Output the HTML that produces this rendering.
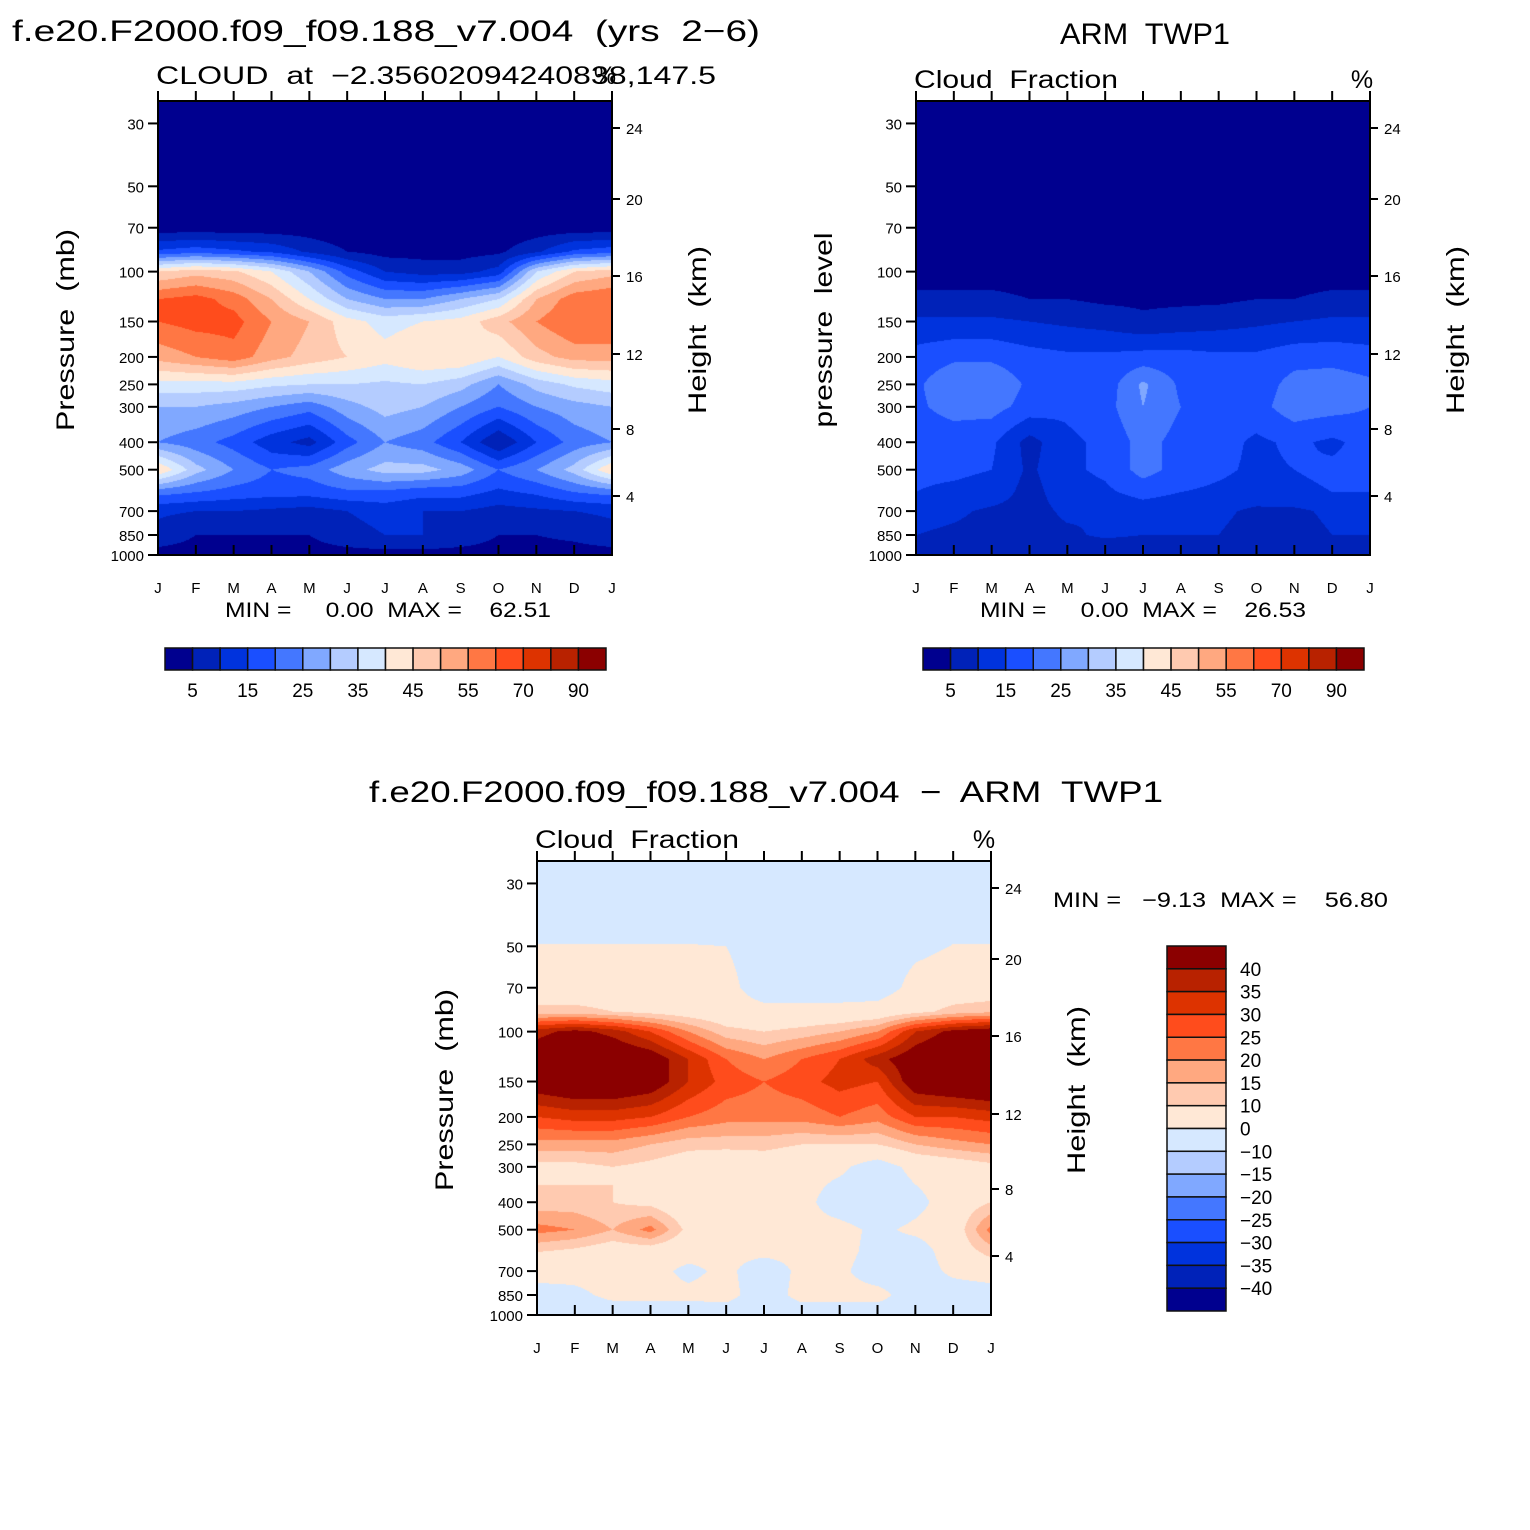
<!DOCTYPE html>
<html><head><meta charset="utf-8">
<style>
body{margin:0;background:#fff;}
#wrap{position:relative;width:1530px;height:1530px;overflow:hidden;font-family:"Liberation Sans",sans-serif;}
canvas{position:absolute;}
svg{position:absolute;left:0;top:0;}
text{font-family:"Liberation Sans",sans-serif;fill:#000;white-space:pre;}
</style></head>
<body>
<div id="wrap">
<canvas id="c1" width="454" height="454" style="left:158px;top:101px"></canvas>
<canvas id="c2" width="454" height="454" style="left:916px;top:101px"></canvas>
<canvas id="c3" width="454" height="454" style="left:537px;top:861px"></canvas>
<svg id="ov" width="1530" height="1530"></svg>
</div>
<script>
// ---- data ----
const months = ["J","F","M","A","M","J","J","A","S","O","N","D","J"];
const pLevels = [25,30,50,70,85,100,125,150,200,250,300,400,500,600,700,850,1000];
const pTicks = [30,50,70,100,150,200,250,300,400,500,700,850,1000];
const hTicks = [24,20,16,12,8,4];
const hTickY = [27,98,175,253,328,395];
const colors = ["#00008f","#0022b8","#0033dd","#1a4fff","#4477ff","#80a8ff","#b4ccff","#d6e8ff","#ffe8d6","#ffcab0","#ffa880","#ff7744","#ff4c1c","#dd3300","#b82200","#8b0000"];
const levelsAbs = [5,10,15,20,25,30,35,40,45,50,55,60,70,80,90];
const levelsDiff = [-40,-35,-30,-25,-20,-15,-10,0,10,15,20,25,30,35,40];
const absLabels = ["5","15","25","35","45","55","70","90"];
const diffLabels = ["40","35","30","25","20","15","10","0","−10","−15","−20","−25","−30","−35","−40"];

const modelCloud = [
 [1,1,1,1,1,1,1,1,1,1,1,1,1],
 [1,1,1,1,1,1,1,1,1,1,1,1,1],
 [1,1,1,1,1,1,1,1,1,1,1,1,1],
 [2,2,2,2,2,1,1,1,1,1,2,2,2],
 [16,18,16,14,9,5,3,3,3,4,9,16,18],
 [45,48,46,40,30,18,10,8,8,12,35,45,48],
 [60,62,58,50,40,30,25,25,30,35,50,58,60],
 [60,62,62,55,50,42,38,40,42,48,55,60,60],
 [52,55,58,52,48,45,42,45,45,40,48,52,52],
 [38,38,38,36,35,35,34,35,32,25,32,36,38],
 [30,30,28,25,22,28,32,30,25,20,25,28,30],
 [25,22,18,12,8,18,25,22,15,5,15,22,25],
 [45,32,25,20,22,28,32,32,28,20,25,32,45],
 [22,20,18,17,17,19,19,17,17,14,16,20,22],
 [11,10,10,9,8,10,12,10,10,8,9,10,11],
 [8,5,5,5,5,8,10,10,8,5,5,6,8],
 [3,3,3,3,3,3,3,3,3,3,3,3,3]];

const obsCloud = [
 [1,1,1,1,1,1,1,1,1,1,1,1,1],
 [1,1,1,1,1,1,1,1,1,1,1,1,1],
 [1,1,1,1,1,1,1,1,1,1,1,1,1],
 [1,1,1,1,1,1,1,1,1,1,1,1,1],
 [2,2,2,2,2,2,2,2,2,2,2,2,2],
 [3,3,3,3,3,3,2,2,2,2,3,3,3],
 [6,6,6,5,5,4,4,4,4,5,5,6,6],
 [11,11,11,10,9,8,6,7,8,9,10,11,11],
 [17,19,19,17,16,16,17,17,16,16,18,18,17],
 [19,24,24,19,17,17,26,19,17,17,22,23,21],
 [19,22,22,18,16,18,25,20,18,18,23,22,20],
 [17,17,16,8,14,16,22,18,17,14,16,14,17],
 [16,16,15,9,14,16,22,18,16,14,15,16,16],
 [15,14,13,8,13,14,17,15,14,13,14,15,15],
 [12,11,9,8,11,10,12,11,11,9,9,11,12],
 [10,9,8,8,9,11,10,10,10,8,8,10,10],
 [5,5,5,5,5,5,5,5,5,5,5,5,5]];

const diffCloud = [
 [-5,-5,-5,-5,-5,-5,-5,-5,-5,-5,-5,-5,-5],
 [-5,-5,-5,-5,-5,-5,-5,-5,-5,-5,-5,-5,-5],
 [0.2,0.2,0.2,0.2,0.2,0,-5,-5,-5,-5,-2,0.2,0.2],
 [5,5,5,5,5,3,-5,-5,-5,-5,3,5,5],
 [12,12,10,8,6,4,3,3,3,4,8,12,14],
 [38,42,38,30,20,12,10,12,15,20,35,42,45],
 [45,50,48,45,35,25,20,25,30,38,45,50,50],
 [45,48,48,45,35,28,25,28,32,30,45,48,50],
 [30,32,32,30,25,22,22,22,25,22,30,30,32],
 [18,18,18,15,12,12,12,10,10,10,15,18,20],
 [8,8,10,8,5,3,5,3,2,-5,3,5,8],
 [12,12,10,8,3,2,2,3,-5,-8,-3,5,10],
 [22,20,15,22,8,3,3,3,3,-2,2,5,22],
 [10,8,5,5,3,2,2,2,3,-3,-5,5,12],
 [5,3,3,3,-2,2,-5,2,2,-5,-5,2,5],
 [-5,-2,2,2,2,3,-5,3,3,3,-5,-5,-5],
 [-5,-5,-5,-5,-5,-5,-5,-5,-5,-5,-5,-5,-5]];

// ---- axis functions ----
const PW=454, PH=454, PTOP=25, PBOT=1000;
const yOfP = p => PH*Math.log(p/PTOP)/Math.log(PBOT/PTOP);
const xOfM = m => m*PW/12;
function hex(c){return [parseInt(c.slice(1,3),16),parseInt(c.slice(3,5),16),parseInt(c.slice(5,7),16)];}
const rgb = colors.map(hex);
function valueAt(grid, mFrac, lnp){
  const lp = pLevels.map(Math.log);
  let i=0; while(i<lp.length-2 && lnp>lp[i+1]) i++;
  let t=(lnp-lp[i])/(lp[i+1]-lp[i]); t=Math.max(0,Math.min(1,t));
  let j=Math.min(11,Math.floor(mFrac)); let s=mFrac-j;
  const a=grid[i][j]*(1-s)+grid[i][j+1]*s, b=grid[i+1][j]*(1-s)+grid[i+1][j+1]*s;
  return a*(1-t)+b*t;
}
function drawField(id, grid, levels){
  const cv=document.getElementById(id), ctx=cv.getContext('2d');
  const img=ctx.createImageData(PW,PH);
  const lnTop=Math.log(PTOP), lnBot=Math.log(PBOT);
  for(let y=0;y<PH;y++){
    const lnp=lnTop+(y+0.5)/PH*(lnBot-lnTop);
    for(let x=0;x<PW;x++){
      const v=valueAt(grid,(x+0.5)/PW*12,lnp);
      let k=0; while(k<levels.length && v>=levels[k]) k++;
      const c=rgb[k], o=(y*PW+x)*4;
      img.data[o]=c[0];img.data[o+1]=c[1];img.data[o+2]=c[2];img.data[o+3]=255;
    }
  }
  ctx.putImageData(img,0,0);
}
drawField('c1',modelCloud,levelsAbs);
drawField('c2',obsCloud,levelsAbs);
drawField('c3',diffCloud,levelsDiff);

// ---- overlay ----
const NS="http://www.w3.org/2000/svg", ov=document.getElementById('ov');
function el(tag,attrs,t){const e=document.createElementNS(NS,tag);for(const k in attrs)e.setAttribute(k,attrs[k]);if(t!==undefined)e.textContent=t;ov.appendChild(e);return e;}
function txt(x,y,s,size,anchor,name,rot,len){
  const e=el('text',{x:x,y:y,'font-size':size,'text-anchor':anchor||'start'},s);
  if(len){e.setAttribute('textLength',len);e.setAttribute('lengthAdjust','spacingAndGlyphs');}
  if(rot) e.setAttribute('transform','rotate(-90 '+x+' '+y+')');
  
  
  return e;
}
function panel(L,T,ylab,ylen,pfx){
  const r=el('rect',{x:L,y:T,width:PW,height:PH,fill:'none',stroke:'#000','stroke-width':2});
  
  
  pTicks.forEach(p=>{const y=T+yOfP(p);
    el('line',{x1:L-10,y1:y,x2:L,y2:y,stroke:'#000','stroke-width':2});
    txt(L-14,y+6,String(p),15,'end',pfx+'-y-tick-label');});
  hTicks.forEach((h,i)=>{const y=T+hTickY[i];
    el('line',{x1:L+PW,y1:y,x2:L+PW+8,y2:y,stroke:'#000','stroke-width':2});
    txt(L+PW+14,y+6,String(h),15,'start',pfx+'-height-tick-label');});
  months.forEach((m,i)=>{const x=L+xOfM(i);
    el('line',{x1:x,y1:T+PH,x2:x,y2:T+PH-10,stroke:'#000','stroke-width':2});
    el('line',{x1:x,y1:T,x2:x,y2:T-10,stroke:'#000','stroke-width':2});
    txt(x,T+PH+38,m,15,'middle',pfx+'-x-tick-label');});
  txt(L-84,T+229,ylab,25,'middle',pfx+'-y-axis-title',true,ylen);
  txt(L+PW+94,T+229,'Height  (km)',25,'middle',pfx+'-right-axis-title',true,168);
}
panel(158,101,'Pressure  (mb)',202,'model');
panel(916,101,'pressure  level',195,'obs');
panel(537,861,'Pressure  (mb)',202,'diff');

txt(12,41,'f.e20.F2000.f09_f09.188_v7.004  (yrs  2−6)',30,'start','model-title',false,748);
txt(156,84,'CLOUD  at  −2.35602094240838,147.5',25,'start','model-subtitle',false,560);
txt(605,84,'%',25,'middle','model-units');
txt(1145,44,'ARM  TWP1',30,'middle','obs-title',false,170);
txt(914,88,'Cloud  Fraction',25,'start','obs-subtitle',false,204);
txt(1362,88,'%',25,'middle','obs-units');
txt(766,802,'f.e20.F2000.f09_f09.188_v7.004  −  ARM  TWP1',30,'middle','diff-title',false,794);
txt(535,848,'Cloud  Fraction',25,'start','diff-subtitle',false,204);
txt(984,848,'%',25,'middle','diff-units');
txt(225,617,'MIN =     0.00  MAX =    62.51',21,'start','model-min-max',false,326);
txt(980,617,'MIN =     0.00  MAX =    26.53',21,'start','obs-min-max',false,326);
txt(1053,907,'MIN =   −9.13  MAX =    56.80',21,'start','diff-min-max',false,335);

function hbar(L,pfx){
  const w=441/16;
  colors.forEach((c,i)=>{const r=el('rect',{x:L+i*w,y:648,width:w,height:22,fill:c,stroke:'#111','stroke-width':1.5});
    
    });
  absLabels.forEach((s,i)=>txt(L+(2*i+1)*w,697,s,19,'middle',pfx+'-colorbar-label'));
}
hbar(165,'model'); hbar(923,'obs');
const vh=365/16;
colors.slice().reverse().forEach((c,i)=>{const r=el('rect',{x:1167,y:946+i*vh,width:59,height:vh,fill:c,stroke:'#111','stroke-width':1.5});
  
  });
diffLabels.forEach((s,i)=>txt(1240,946+(i+1)*vh+7,s,19,'start','diff-colorbar-label'));
</script>
</body></html>
